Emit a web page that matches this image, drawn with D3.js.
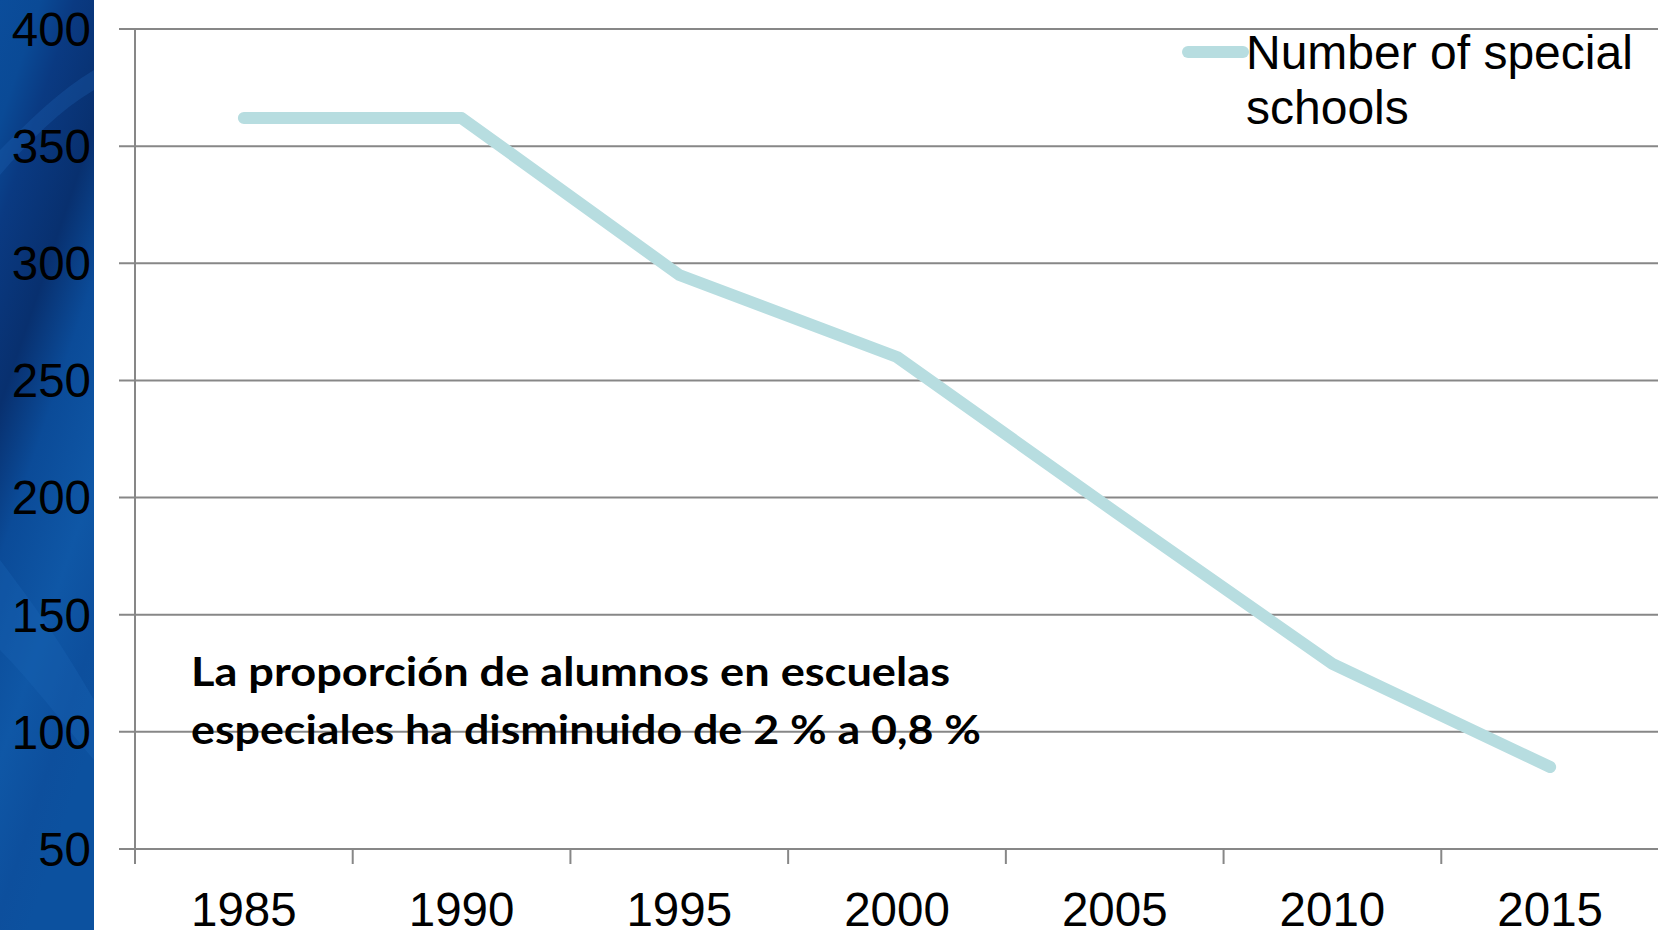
<!DOCTYPE html>
<html>
<head>
<meta charset="utf-8">
<script src="https://cdn.jsdelivr.net/npm/d3@7"></script>
<style>
  html, body { margin: 0; padding: 0; background: #fff; overflow: hidden; }
  svg { display: block; }
</style>
</head>
<body>
<svg id="chart" width="1658" height="930"></svg>
<script>
const YEARS = ['1985', '1990', '1995', '2000', '2005', '2010', '2015'];
const SPECIAL_SCHOOLS = [362, 362, 295, 260, 194, 129, 85];
const Y_TICKS = [50, 100, 150, 200, 250, 300, 350, 400];
const SERIES_NAME = ['Number of special', 'schools'];
const NOTE_LINES = ['La proporción de alumnos en escuelas', 'especiales ha disminuido de 2 % a 0,8 %'];

const W = 1658, H = 930;
const MARGIN = { top: 29, right: -1, bottom: 81, left: 135 };
const GRID = '#878787';
const LINE_COLOR = '#b7dde0';
const AXIS_FONT = '"Liberation Sans", Arial, sans-serif';

const svg = d3.select('#chart');

// blue picture strip on the left
const defs = svg.append('defs');
const grad = defs.append('linearGradient')
    .attr('id', 'strip').attr('x1', 0).attr('y1', 0).attr('x2', 0.3).attr('y2', 1);
[[0, '#0b4d9b'], [0.12, '#0a4a96'], [0.22, '#0a3a82'], [0.4, '#08306f'],
 [0.55, '#0b4b98'], [0.75, '#0f57a6'], [0.9, '#0d4f9d'], [1, '#0c519f']]
    .forEach(([o, c]) => grad.append('stop').attr('offset', o).attr('stop-color', c));
svg.append('rect').attr('x', 0).attr('y', 0).attr('width', 94).attr('height', H).attr('fill', 'url(#strip)');
svg.append('path')
    .attr('d', 'M0,150 C30,120 60,90 94,70 L94,90 C60,110 30,140 0,175 Z')
    .attr('fill', '#1d5fae').attr('opacity', 0.35);
svg.append('path')
    .attr('d', 'M0,560 C30,600 60,640 94,700 L94,760 C60,720 30,680 0,650 Z')
    .attr('fill', '#1a64b5').attr('opacity', 0.35);

const x = d3.scaleBand()
    .domain(YEARS)
    .range([MARGIN.left, W - MARGIN.right]);

const y = d3.scaleLinear()
    .domain([50, 400])
    .range([H - MARGIN.bottom, MARGIN.top]);

// horizontal gridlines with outward tick stubs
svg.append('g')
    .selectAll('line')
    .data(Y_TICKS)
    .enter()
    .append('line')
        .attr('x1', MARGIN.left - 16)
        .attr('x2', W)
        .attr('y1', d => y(d))
        .attr('y2', d => y(d))
        .attr('stroke', GRID)
        .attr('stroke-width', 2);

// y axis line
svg.append('line')
    .attr('x1', MARGIN.left).attr('x2', MARGIN.left)
    .attr('y1', y(400)).attr('y2', y(50) + 15)
    .attr('stroke', GRID).attr('stroke-width', 2);

// x tick marks between categories
svg.append('g')
    .selectAll('line')
    .data(YEARS.slice(1))
    .enter()
    .append('line')
        .attr('x1', d => x(d))
        .attr('x2', d => x(d))
        .attr('y1', y(50))
        .attr('y2', y(50) + 15)
        .attr('stroke', GRID)
        .attr('stroke-width', 2);

// y labels
svg.append('g')
    .selectAll('text')
    .data(Y_TICKS)
    .enter()
    .append('text')
        .attr('x', 91)
        .attr('y', d => y(d))
        .attr('dy', '0.355em')
        .attr('text-anchor', 'end')
        .style('font-family', AXIS_FONT)
        .style('font-size', '47.5px')
        .style('fill', '#000')
        .text(d => d);

// x labels (cut by the bottom edge, as in the slide)
svg.append('g')
    .selectAll('text')
    .data(YEARS)
    .enter()
    .append('text')
        .attr('x', d => x(d) + x.bandwidth() / 2)
        .attr('y', 926)
        .attr('text-anchor', 'middle')
        .style('font-family', AXIS_FONT)
        .style('font-size', '47.5px')
        .style('fill', '#000')
        .text(d => d);

// the series
const line = d3.line()
    .x((d, i) => x(YEARS[i]) + x.bandwidth() / 2)
    .y(d => y(d));

svg.append('path')
    .datum(SPECIAL_SCHOOLS)
    .attr('d', line)
    .attr('fill', 'none')
    .attr('stroke', LINE_COLOR)
    .attr('stroke-width', 12)
    .attr('stroke-linecap', 'round')
    .attr('stroke-linejoin', 'round');

// legend
svg.append('line')
    .attr('x1', 1188).attr('x2', 1243)
    .attr('y1', 52).attr('y2', 52)
    .attr('stroke', LINE_COLOR)
    .attr('stroke-width', 12)
    .attr('stroke-linecap', 'round');

svg.append('g')
    .selectAll('text')
    .data(SERIES_NAME)
    .enter()
    .append('text')
        .attr('x', 1246)
        .attr('y', (d, i) => 69 + i * 55)
        .style('font-family', AXIS_FONT)
        .style('font-size', '48px')
        .style('fill', '#000')
        .text(d => d);

// note
const NOTE_WIDTHS = [759, 790];
svg.append('g')
    .selectAll('text')
    .data(NOTE_LINES)
    .enter()
    .append('text')
        .attr('x', 191)
        .attr('y', (d, i) => 686 + i * 58)
        .attr('textLength', (d, i) => NOTE_WIDTHS[i])
        .attr('lengthAdjust', 'spacingAndGlyphs')
        .style('font-family', 'Lato, "Open Sans", sans-serif')
        .style('font-weight', 'bold')
        .style('font-size', '40px')
        .style('fill', '#000')
        .text(d => d);
</script>
</body>
</html>
